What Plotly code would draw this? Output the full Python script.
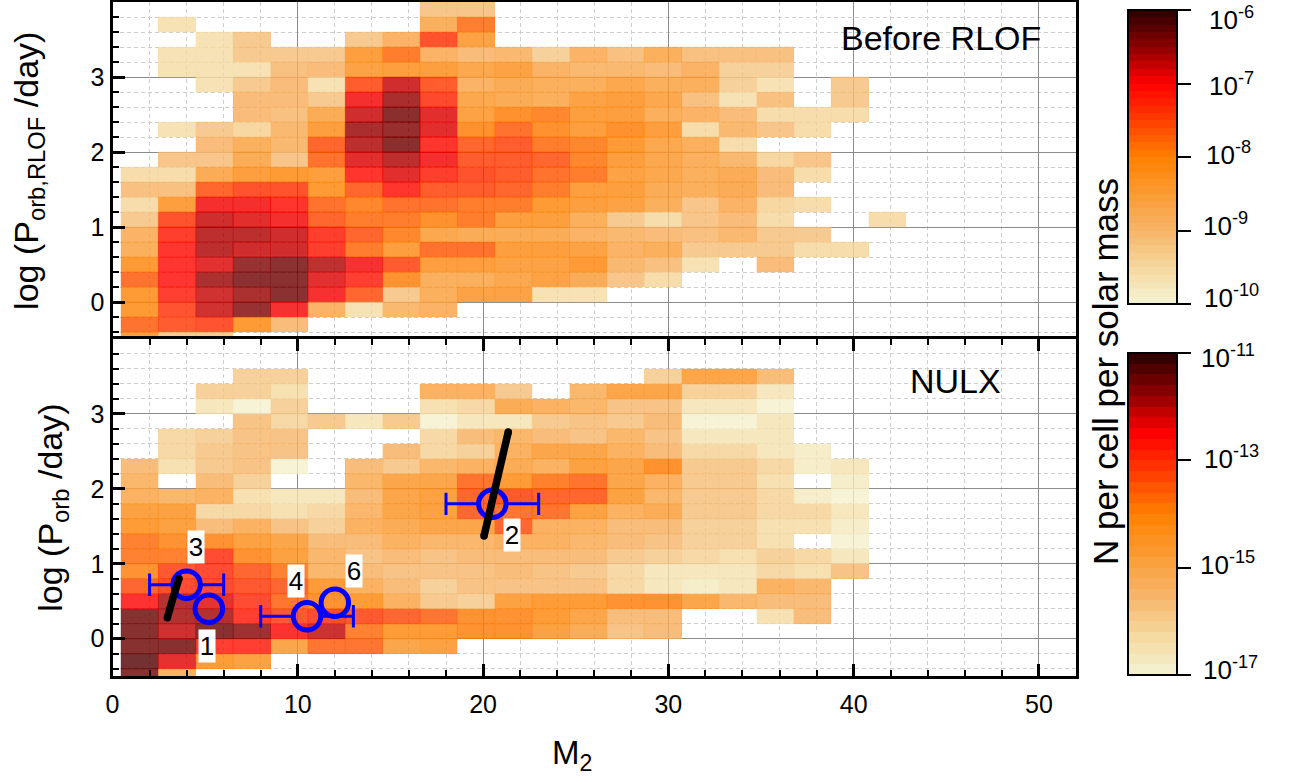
import plotly.graph_objects as go

_ = None
# log10(N per cell per solar mass), rows from log P = 3.8 (top) down to -0.6; 21 mass bins
before_rlof = [
 [_,_,_,_,_,_,_,_,-9.1,-9.1,_,_,_,_,_,_,_,_,_,_,_],
 [_,-9.6,_,_,_,_,_,_,-8.6,-7.8,_,_,_,_,_,_,_,_,_,_,_],
 [_,_,-9.6,-9.2,_,_,-9.2,-8.7,-7.4,-8.3,_,_,_,_,_,_,_,_,_,_,_],
 [_,-9.6,-9.6,-9.2,-9.2,-9.2,-8.2,-7.8,-8.7,-8.9,-8.8,-9.3,-8.7,-9.0,-8.6,-9.0,-9.0,-9.0,_,_,_],
 [_,-9.6,-9.6,-9.6,-9.0,-8.9,-8.3,-8.2,-8.2,-8.4,-8.3,-8.7,-8.8,-8.8,-8.9,-8.7,-9.3,-9.3,_,_,_],
 [_,_,-9.6,-9.2,-8.9,-9.6,-7.5,-6.8,-7.5,-8.7,-8.5,-8.6,-8.6,-8.4,-8.6,-8.6,-9.3,-9.6,_,-9.2,_],
 [_,_,_,-8.9,-8.9,-9.2,-7.0,-6.6,-7.3,-8.4,-8.5,-8.6,-8.3,-8.2,-8.4,-9.0,-9.6,-9.0,_,-9.2,_],
 [_,_,_,-8.9,-9.0,-8.5,-6.8,-6.35,-6.9,-8.3,-8.0,-7.9,-8.2,-8.2,-8.6,-8.7,-8.9,-9.5,-9.5,-9.5,_],
 [_,-9.6,-9.2,-9.4,-8.8,-8.2,-6.6,-6.45,-6.9,-8.0,-7.7,-8.0,-8.2,-8.0,-8.2,-9.5,-8.8,-9.1,-9.5,_,_],
 [_,_,-8.9,-8.6,-8.8,-7.6,-6.7,-6.4,-7.05,-7.6,-7.5,-7.8,-7.9,-8.1,-8.4,-8.6,-9.5,_,_,_,_],
 [_,-9.1,-9.1,-8.5,-9.1,-7.7,-6.85,-6.7,-7.0,-7.5,-7.5,-7.6,-7.9,-8.2,-8.4,-8.6,-8.8,-9.4,-9.1,_,_],
 [-9.5,-9.5,-8.5,-8.2,-8.1,-8.2,-7.1,-6.85,-7.2,-7.4,-7.5,-7.7,-7.8,-8.3,-8.4,-8.6,-8.5,-8.9,-9.5,_,_],
 [-9.0,-9.0,-7.6,-7.4,-7.4,-8.1,-7.6,-7.1,-7.5,-7.5,-7.6,-7.8,-8.2,-8.2,-8.5,-8.6,-8.5,-8.9,_,_,_],
 [-9.5,-8.15,-6.95,-7.0,-7.1,-7.7,-7.9,-7.7,-7.7,-7.8,-7.8,-8.1,-8.2,-8.3,-8.6,-9.1,-8.7,-9.4,-9.5,_,_],
 [-9.2,-7.4,-6.75,-6.85,-7.0,-7.6,-7.8,-7.8,-8.0,-7.8,-8.2,-8.2,-8.6,-9.2,-9.45,-9.1,-8.9,-9.5,_,_,-9.5],
 [-8.7,-7.2,-6.65,-6.65,-6.75,-7.2,-7.6,-7.9,-8.4,-8.5,-8.5,-8.5,-8.7,-8.8,-8.9,-9.0,-8.8,-9.2,-9.2,_,_],
 [-8.6,-7.1,-6.65,-6.75,-6.75,-7.2,-7.8,-8.2,-7.7,-7.7,-8.2,-8.2,-8.3,-8.7,-8.6,-9.2,-9.2,-9.2,-9.5,-9.5,_],
 [-8.1,-7.1,-6.85,-6.5,-6.4,-6.7,-7.0,-7.5,-8.2,-8.2,-8.3,-8.3,-8.1,-8.8,-9.0,-9.6,_,-8.9,_,_,_],
 [-7.7,-7.1,-6.6,-6.4,-6.4,-6.85,-7.2,-8.0,-8.6,-8.6,-8.4,-8.3,-8.5,-9.1,-9.5,_,_,_,_,_,_],
 [-8.1,-7.2,-6.75,-6.6,-6.4,-7.0,-7.6,-9.2,-8.6,-8.3,-8.3,-9.55,-9.55,_,_,_,_,_,_,_,_],
 [-8.1,-7.4,-6.75,-6.5,-7.0,-8.7,-9.6,-8.8,-8.7,_,_,_,_,_,_,_,_,_,_,_,_],
 [-7.7,-7.45,-7.4,-8.1,-8.9,_,_,_,_,_,_,_,_,_,_,_,_,_,_,_,_],
 [-8.2,-9.2,-9.2,_,_,_,_,_,_,_,_,_,_,_,_,_,_,_,_,_,_],
]
nulx = [
 [_,_,_,_,_,_,_,_,_,_,_,_,_,_,_,_,_,_,_,_,_],
 [_,_,_,_,_,_,_,_,_,_,_,_,_,_,_,_,_,_,_,_,_],
 [_,_,_,-16.0,-16.0,_,_,_,_,_,_,_,_,_,-15.9,-14.5,-14.5,-15.4,_,_,_],
 [_,_,-16.0,-16.0,-16.4,_,_,_,-15.0,-15.0,-15.7,_,-15.1,-14.6,-14.6,-16.0,-16.0,-16.5,_,_,_],
 [_,_,-16.5,-16.9,-15.9,_,_,_,-16.3,-16.1,-14.8,-14.9,-15.2,-15.5,-15.6,-16.6,-16.6,-16.85,_,_,_],
 [_,_,_,-15.6,-16.2,-15.7,-16.5,-15.7,-16.9,-16.6,-16.5,-15.8,-15.6,-15.7,-15.3,-16.9,-16.9,-16.5,_,_,_],
 [_,-16.1,-15.9,-15.6,-15.6,_,_,_,-16.2,-15.3,-15.1,-15.4,-15.6,-15.2,-15.5,-16.6,-16.6,-16.6,_,_,_],
 [_,-16.1,-15.8,-15.6,-15.6,_,_,-15.3,-16.1,-16.0,-15.0,-14.5,-14.6,-15.0,-15.4,-16.2,-16.2,-16.5,-16.7,_,_],
 [-15.4,-16.3,-15.7,-15.5,-16.9,_,-15.3,-15.7,-15.2,-15.0,-14.7,-15.0,-14.3,-14.5,-14.0,-15.8,-15.8,-16.1,-16.7,-16.5,_],
 [-15.2,_,-15.3,-16.0,_,_,-15.2,-14.5,-14.5,-13.6,-14.2,-13.7,-13.6,-14.6,-15.0,-15.7,-15.7,-16.4,_,-16.7,_],
 [-14.9,-15.1,-15.0,-16.4,-16.6,-16.6,-15.3,-14.5,-14.3,-13.4,-13.2,-13.4,-13.3,-14.4,-15.1,-15.7,-15.7,-16.2,-16.7,-16.85,_],
 [-14.3,-14.4,-16.1,-16.2,-16.3,-16.1,-15.2,-14.5,-14.3,-13.3,-13.6,-13.6,-14.3,-15.0,-14.8,-15.7,-15.7,-16.2,-16.2,-16.6,_],
 [-14.2,-14.3,-15.4,-15.0,-15.5,-16.0,-15.0,-14.8,-14.6,-14.6,-13.4,-15.0,-15.0,-15.3,-15.3,-15.9,-15.9,-16.4,-16.4,-16.7,_],
 [-13.7,-14.0,-14.0,-14.3,-14.5,-15.3,-15.4,-15.0,-15.2,-15.2,-15.0,-15.0,-15.2,-15.4,-15.6,-15.9,-15.9,-16.3,_,-16.85,_],
 [-13.8,-13.8,-12.9,-13.9,-14.4,-15.2,-15.5,-15.3,-15.5,-15.4,-15.3,-15.3,-15.4,-15.8,-15.9,-16.1,-16.3,-16.0,-16.2,-16.6,_],
 [-13.9,-13.1,-13.0,-13.3,-13.8,-15.2,-15.4,-15.5,-15.6,-15.5,-15.4,-15.5,-15.7,-16.1,-16.5,-16.5,-16.5,-16.1,-16.4,-15.6,_],
 [-13.3,-13.0,-12.9,-13.2,-13.4,-14.2,-15.0,-15.4,-15.9,-15.5,-15.5,-15.5,-15.6,-16.1,-16.5,-16.8,-16.5,-14.9,-15.2,_,_],
 [-12.5,-12.0,-12.3,-12.9,-13.5,-13.9,-14.1,-15.0,-15.7,-15.9,-14.3,-14.1,-14.2,-13.9,-14.0,-14.5,-15.1,-15.3,-15.3,_,_],
 [-11.6,-12.0,-12.0,-12.8,-13.2,-13.0,-13.2,-13.4,-13.6,-14.0,-13.9,-14.2,-14.5,-15.4,-15.3,_,_,-16.3,-15.3,_,_],
 [-11.5,-12.1,-11.6,-11.7,-12.5,-12.1,-13.7,-14.2,-14.2,-14.0,-13.9,-14.4,-14.7,-15.6,-15.3,_,_,_,_,_,_],
 [-11.5,-11.6,-12.7,-12.7,-14.5,-13.6,-13.5,-14.6,-14.4,_,_,_,_,_,_,_,_,_,_,_,_],
 [-11.3,-12.3,-14.2,-14.4,_,_,_,_,_,_,_,_,_,_,_,_,_,_,_,_,_],
 [-11.6,-14.9,_,_,_,_,_,_,_,_,_,_,_,_,_,_,_,_,_,_,_],
]

mass_edges = [0.46 + 2.017 * k for k in range(22)]
logp_edges = [-0.6 + 0.2 * k for k in range(24)]

src_labels = ["1", "2", "3", "4", "6"]
src_m = [5.2, 20.5, 4.0, 10.5, 12.0]
src_logp = [0.4, 1.8, 0.72, 0.3, 0.48]
err_lo = [None, 18.0, 2.0, 8.0, None]
err_hi = [None, 23.0, 6.0, 13.0, None]
lab_m = [5.1, 21.54, 4.49, 9.89, 13.03]
lab_logp = [-0.1, 1.39, 1.227, 0.77, 0.91]
track_a_m = [2.96, 3.25, 3.59]
track_a_p = [0.28, 0.53, 0.805]
track_b_m = [20.05, 21.36]
track_b_p = [1.37, 2.76]

cbar_top_vals = [-10, -9, -8, -7, -6]
cbar_bot_vals = [-17, -15, -13, -11]
y_tick_vals = [0, 1, 2, 3]

anchors = [(0.0, (244,244,212)), (0.12, (245,217,160)), (0.25, (247,180,105)),
           (0.38, (251,154,48)), (0.5, (255,128,0)), (0.62, (255,64,0)),
           (0.75, (255,0,0)), (0.87, (143,0,0)), (1.0, (42,0,0))]

def cmap(f):
    for (f0, c0), (f1, c1) in zip(anchors, anchors[1:]):
        if f <= f1:
            t = (f - f0) / (f1 - f0)
            return "rgb(%d,%d,%d)" % tuple(round(a + (b - a) * t) for a, b in zip(c0, c1))
    return "rgb(42,0,0)"

def bands(n):
    out = []
    for i in range(n):
        c = cmap((i + 0.5) / n)
        out += [[i / n, c], [(i + 1) / n, c]]
    return out

PW, PH = 1291, 779
F = "Liberation Sans"
fig = go.Figure()

def panel(z_rows, zmin, zmax, n, xa, ya, cb):
    rows = z_rows[::-1]
    fig.add_trace(go.Heatmap(x=mass_edges, y=logp_edges, z=rows, zmin=zmin, zmax=zmax,
                             colorscale=bands(n), opacity=0.8, xaxis=xa, yaxis=ya,
                             hoverongaps=False, colorbar=cb))
    groups = {}
    for r, row in enumerate(rows):
        for c, v in enumerate(row):
            if v is None:
                continue
            k = min(n - 1, int((v - zmin) / (zmax - zmin) * n))
            gx, gy = groups.setdefault(k, ([], []))
            x0, x1 = mass_edges[c], mass_edges[c + 1]
            y0, y1 = logp_edges[r], logp_edges[r + 1]
            gx += [x0, x1, x1, x0, x0, None]
            gy += [y0, y0, y1, y1, y0, None]
    for k, (gx, gy) in groups.items():
        fig.add_trace(go.Scatter(x=gx, y=gy, mode="lines", xaxis=xa, yaxis=ya,
                                 line=dict(color=cmap((k + 0.5) / n), width=1),
                                 opacity=0.3, hoverinfo="skip", showlegend=False))

def colorbar(vals, top, bottom):
    return dict(x=1128 / PW, xanchor="left", thickness=49, thicknessmode="pixels",
                y=1 - bottom / PH, yanchor="bottom", len=(bottom - top) / PH, lenmode="fraction",
                xpad=0, ypad=0, outlinewidth=2, outlinecolor="black",
                tickmode="array", tickvals=vals, showticklabels=False,
                ticks="outside", ticklen=13, tickwidth=1.5, tickcolor="black")

panel(before_rlof, -10, -6, 40, "x", "y", colorbar(cbar_top_vals, 10.5, 304))
panel(nulx, -17, -11, 30, "x2", "y2", colorbar(cbar_bot_vals, 353, 675))

R = 0.8
ex, ey, cx, cy = [], [], [], []
for m, p, lo, hi in zip(src_m, src_logp, err_lo, err_hi):
    if lo is None:
        continue
    ex += [lo, m - R, None, m + R, hi, None]
    ey += [p, p, None, p, p, None]
    cx += [lo, hi]
    cy += [p, p]
BLUE = "#0000ff"
fig.add_trace(go.Scatter(x=ex, y=ey, mode="lines", line=dict(color=BLUE, width=3),
                         xaxis="x2", yaxis="y2", showlegend=False, hoverinfo="skip"))
fig.add_trace(go.Scatter(x=cx, y=cy, mode="markers", xaxis="x2", yaxis="y2", showlegend=False,
                         marker=dict(symbol="line-ns", size=16, color=BLUE, line=dict(color=BLUE, width=3))))
fig.add_trace(go.Scatter(x=src_m, y=src_logp, mode="markers", xaxis="x2", yaxis="y2", showlegend=False,
                         marker=dict(symbol="circle-open", size=27.5, color=BLUE, line=dict(color=BLUE, width=5))))
for tm, tp in ((track_a_m, track_a_p), (track_b_m, track_b_p)):
    fig.add_trace(go.Scatter(x=tm, y=tp, mode="lines", xaxis="x2", yaxis="y2", showlegend=False,
                             line=dict(color="black", width=7.5, shape="spline")))
    fig.add_trace(go.Scatter(x=[tm[0], tm[-1]], y=[tp[0], tp[-1]], mode="markers", xaxis="x2", yaxis="y2",
                             showlegend=False, marker=dict(color="black", size=7.5)))

ann = []
for t, m, p in zip(src_labels, lab_m, lab_logp):
    ann.append(dict(x=m, y=p, xref="x2", yref="y2", text=t, showarrow=False, bgcolor="white",
                    width=16, height=32, font=dict(family=F, size=26, color="black"), borderpad=0))
ann.append(dict(x=1043 / PW, y=1 - 38 / PH, xref="paper", yref="paper", xanchor="right", yanchor="middle",
                text="Before RLOF", showarrow=False, font=dict(family=F, size=34, color="black")))
ann.append(dict(x=1003 / PW, y=1 - 381 / PH, xref="paper", yref="paper", xanchor="right", yanchor="middle",
                text="NULX", showarrow=False, font=dict(family=F, size=34, color="black")))
ann.append(dict(x=1105 / PW, y=1 - 372 / PH, xref="paper", yref="paper", xanchor="center", yanchor="middle",
                text="N per cell per solar mass", textangle=-90, showarrow=False,
                font=dict(family=F, size=35, color="black")))
ann.append(dict(x=550 / PW, y=1 - 755 / PH, xref="paper", yref="paper", xanchor="left", yanchor="middle",
                text="M<sub>2</sub>", showarrow=False, font=dict(family=F, size=33, color="black")))
cb_labels = [(-6, 1207, 18), (-7, 1207, 84), (-8, 1204, 153), (-9, 1201, 225), (-10, 1202, 297),
             (-11, 1199, 356), (-13, 1202, 457), (-15, 1198, 563), (-17, 1201, 668)]
for v, px, py in cb_labels:
    ann.append(dict(x=px / PW, y=1 - py / PH, xref="paper", yref="paper", xanchor="left", yanchor="middle",
                    text="10<sup>%d</sup>" % v, showarrow=False, font=dict(family=F, size=26, color="black")))

GRID_MAJOR, GRID_MINOR = "#8c8c8c", "#cdcdcd"

def xaxis(bottom):
    d = dict(range=[0, 52], tick0=0, dtick=10, domain=[112.5 / PW, 1076 / PW], showline=True, linewidth=3,
             linecolor="black", showgrid=True, gridcolor=GRID_MAJOR, gridwidth=1, zeroline=False,
             tickfont=dict(family=F, size=25, color="black"))
    minor = dict(dtick=2, showgrid=True, gridcolor=GRID_MINOR, griddash="4px,3px", gridwidth=1)
    if bottom:
        d.update(ticks="inside", ticklen=12, tickwidth=3, tickcolor="black", mirror="ticks", anchor="y2",
                 ticklabelstandoff=4)
        minor.update(ticks="inside", ticklen=6, tickwidth=2, tickcolor="black")
    else:
        d.update(ticks="", showticklabels=False, mirror=True, anchor="y")
        minor.update(ticks="")
    d["minor"] = minor
    return d

def yaxis(top, bottom, title, anchor, standoff):
    return dict(range=[-0.5, 4], tickmode="array", tickvals=y_tick_vals, domain=[1 - bottom / PH, 1 - top / PH],
                showline=True, linewidth=3, linecolor="black", mirror=True, ticks="inside", ticklen=12, tickwidth=3,
                tickcolor="black", showgrid=True, gridcolor=GRID_MAJOR, gridwidth=1, zeroline=False,
                anchor=anchor, tickfont=dict(family=F, size=25, color="black"),
                title=dict(text=title, font=dict(family=F, size=34, color="black"), standoff=standoff),
                minor=dict(tickmode="linear", dtick=0.2, tick0=0, showgrid=True, gridcolor=GRID_MINOR,
                           griddash="4px,3px", gridwidth=1, ticks="inside", ticklen=6, tickwidth=2, tickcolor="black"))

fig.update_layout(
    width=PW, height=PH, margin=dict(l=0, r=0, t=0, b=0, autoexpand=False), paper_bgcolor="white",
    plot_bgcolor="white", showlegend=False, annotations=ann,
    xaxis=xaxis(False), xaxis2=xaxis(True),
    yaxis=yaxis(2, 339.5, "log (P<sub>orb,RLOF</sub> /day)", "x", 42),
    yaxis2=yaxis(339, 676.2, "log (P<sub>orb</sub> /day)", "x2", 18),
)
fig.write_html("out.html", config=dict(displayModeBar=False),
               post_script="document.body.style.margin='0';document.documentElement.style.overflow='hidden';")
